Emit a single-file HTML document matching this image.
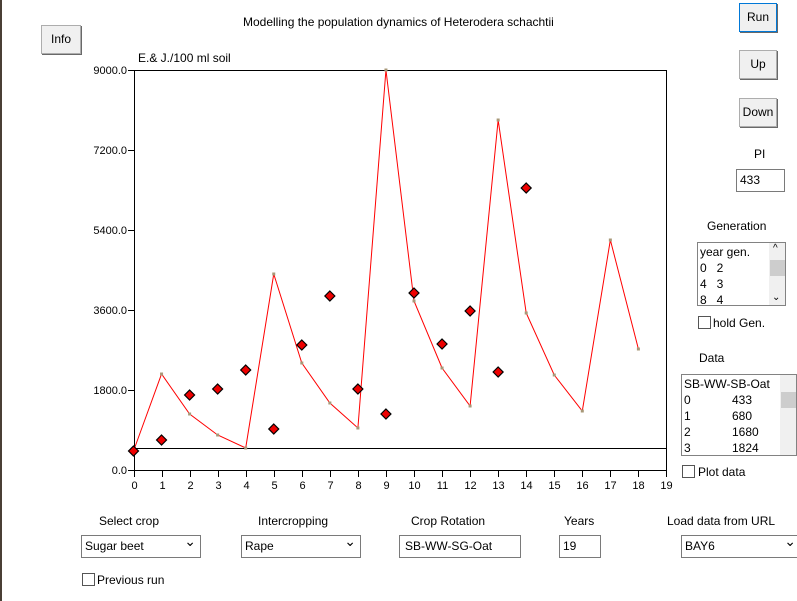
<!DOCTYPE html>
<html><head><style>
body{margin:0;width:797px;height:601px;background:#fff;font-family:"Liberation Sans",sans-serif;overflow:hidden;position:relative}
.a{position:absolute;font-size:12px;color:#000;white-space:nowrap}
.btn{position:absolute;background:#f0f0f0;border:1px solid #adadad;box-shadow:1px 1px 0 #696969;font-size:12px;text-align:center}
.sel,.tb{position:absolute;border:1px solid #7a7a7a;background:#fff;font-size:12px;box-sizing:border-box;padding:3px 3px}
.sel:after{content:"⌄";position:absolute;right:4px;top:-3px;font-size:14px}
.cb{position:absolute;width:11px;height:11px;border:1px solid #555;background:#fff}
.lb{position:absolute;border:1px solid #828282;background:#fff;font-size:12px;box-sizing:border-box;line-height:16px}
.sb{position:absolute;right:0;top:0;bottom:0;width:16px;background:#f0f0f0}
</style></head><body>
<div style="position:absolute;left:0;top:0;width:2px;height:601px;background:#4a3f35"></div>
<div class="a" style="left:243px;top:15px">Modelling the population dynamics of Heterodera schachtii</div>
<div class="btn" style="left:41px;top:25px;width:38px;height:27px;line-height:27px">Info</div>
<div class="btn" style="left:739px;top:3px;width:36px;height:27px;line-height:27px;border:1px solid #0078d7">Run</div>
<div class="btn" style="left:739px;top:50px;width:36px;height:27px;line-height:27px">Up</div>
<div class="btn" style="left:739px;top:98px;width:36px;height:27px;line-height:27px">Down</div>
<div class="a" style="left:138px;top:51px">E.&amp; J./100 ml soil</div>
<div class="a" style="left:754px;top:147px">PI</div>
<div class="tb" style="left:736px;top:169px;width:49px;height:23px">433</div>
<div class="a" style="left:707px;top:219px">Generation</div>
<div class="lb" style="left:697px;top:242px;width:89px;height:64px;padding:1px 2px">year gen.<br>0&nbsp;&nbsp;&nbsp;2<br>4&nbsp;&nbsp;&nbsp;3<br>8&nbsp;&nbsp;&nbsp;4
<div class="sb"><div style="position:absolute;top:17px;left:1px;width:15px;height:16px;background:#cdcdcd"></div><span style="position:absolute;top:-2px;left:4px;font-size:10px">^</span><span style="position:absolute;bottom:-1px;left:3px;font-size:10px">⌄</span></div></div>
<div class="cb" style="left:698px;top:316px"></div><div class="a" style="left:713px;top:316px">hold Gen.</div>
<div class="a" style="left:699px;top:351px">Data</div>
<div class="lb" style="left:681px;top:374px;width:116px;height:82px;padding:1px 2px">SB-WW-SB-Oat<br>0<span style="position:absolute;left:50px">433</span><br>1<span style="position:absolute;left:50px">680</span><br>2<span style="position:absolute;left:50px">1680</span><br>3<span style="position:absolute;left:50px">1824</span>
<div class="sb"><div style="position:absolute;top:17px;left:1px;width:15px;height:16px;background:#cdcdcd"></div></div></div>
<div class="cb" style="left:682px;top:465px"></div><div class="a" style="left:698px;top:465px">Plot data</div>
<svg style="position:absolute;left:0;top:0" width="797" height="601">
<g stroke="#000" stroke-width="1" fill="none" shape-rendering="crispEdges">
<rect x="134.5" y="70.5" width="532" height="400"/>
<line x1="134" y1="448.5" x2="667" y2="448.5"/>
<line x1="128" y1="70.5" x2="134" y2="70.5"/><line x1="128" y1="150.5" x2="134" y2="150.5"/><line x1="128" y1="230.5" x2="134" y2="230.5"/><line x1="128" y1="310.5" x2="134" y2="310.5"/><line x1="128" y1="390.5" x2="134" y2="390.5"/><line x1="128" y1="470.5" x2="134" y2="470.5"/>
</g>
<g id="ticks" stroke="#000" shape-rendering="crispEdges"></g>
<g font-size="11" text-anchor="end" font-family="Liberation Sans">
<text x="127" y="74">9000.0</text><text x="127" y="154">7200.0</text><text x="127" y="234">5400.0</text><text x="127" y="314">3600.0</text><text x="127" y="394">1800.0</text><text x="127" y="474">0.0</text>
</g>
<g id="xl" font-size="11" text-anchor="middle" font-family="Liberation Sans"></g>
<polyline id="pl" fill="none" stroke="#f00" stroke-width="1"/>
<g id="pts"></g><g id="dm"></g>
</svg>
<div class="a" style="left:99px;top:514px">Select crop</div>
<div class="a" style="left:258px;top:514px">Intercropping</div>
<div class="a" style="left:411px;top:514px">Crop Rotation</div>
<div class="a" style="left:564px;top:514px">Years</div>
<div class="a" style="left:667px;top:514px">Load data from URL</div>
<div class="sel" style="left:81px;top:535px;width:120px;height:23px">Sugar beet</div>
<div class="sel" style="left:241px;top:535px;width:120px;height:23px">Rape</div>
<div class="tb" style="left:399px;top:535px;width:122px;height:23px;padding-left:5px">SB-WW-SG-Oat</div>
<div class="tb" style="left:559px;top:535px;width:42px;height:23px">19</div>
<div class="sel" style="left:681px;top:535px;width:120px;height:23px">BAY6</div>
<div class="cb" style="left:82px;top:573px"></div><div class="a" style="left:97px;top:573px">Previous run</div>
<script>
var ns="http://www.w3.org/2000/svg";function X(i){return 133.5+i*28.05}
var t=document.getElementById("ticks"),xl=document.getElementById("xl");
for(var i=0;i<=19;i++){var l=document.createElementNS(ns,"line");var x=Math.round(X(i))+.5;l.setAttribute("x1",x);l.setAttribute("x2",x);l.setAttribute("y1",470);l.setAttribute("y2",477);t.appendChild(l);
var tx=document.createElementNS(ns,"text");tx.setAttribute("x",x);tx.setAttribute("y",489);tx.textContent=i;xl.appendChild(tx);}
var r=[451,374,414,435,448,274,363,403,428,70,301,368,406,120,313,375,411,240,349];
document.getElementById("pl").setAttribute("points",r.map(function(y,i){return X(i)+","+y}).join(" "));
var p=document.getElementById("pts");r.forEach(function(y,i){var c=document.createElementNS(ns,"rect");c.setAttribute("x",X(i)-1.5);c.setAttribute("y",y-1.5);c.setAttribute("width",3);c.setAttribute("height",3);c.setAttribute("fill","#a89878");p.appendChild(c)});
var d=[451,440,395,389,370,429,345,296,389,414,293,344,311,372,188];
var g=document.getElementById("dm");d.forEach(function(y,i){var c=document.createElementNS(ns,"polygon");var x=X(i);c.setAttribute("points",(x)+","+(y-5)+" "+(x+5)+","+y+" "+x+","+(y+5)+" "+(x-5)+","+y);c.setAttribute("fill","#e00");c.setAttribute("stroke","#000");c.setAttribute("stroke-width","1.2");g.appendChild(c)});
</script>
</body></html>
